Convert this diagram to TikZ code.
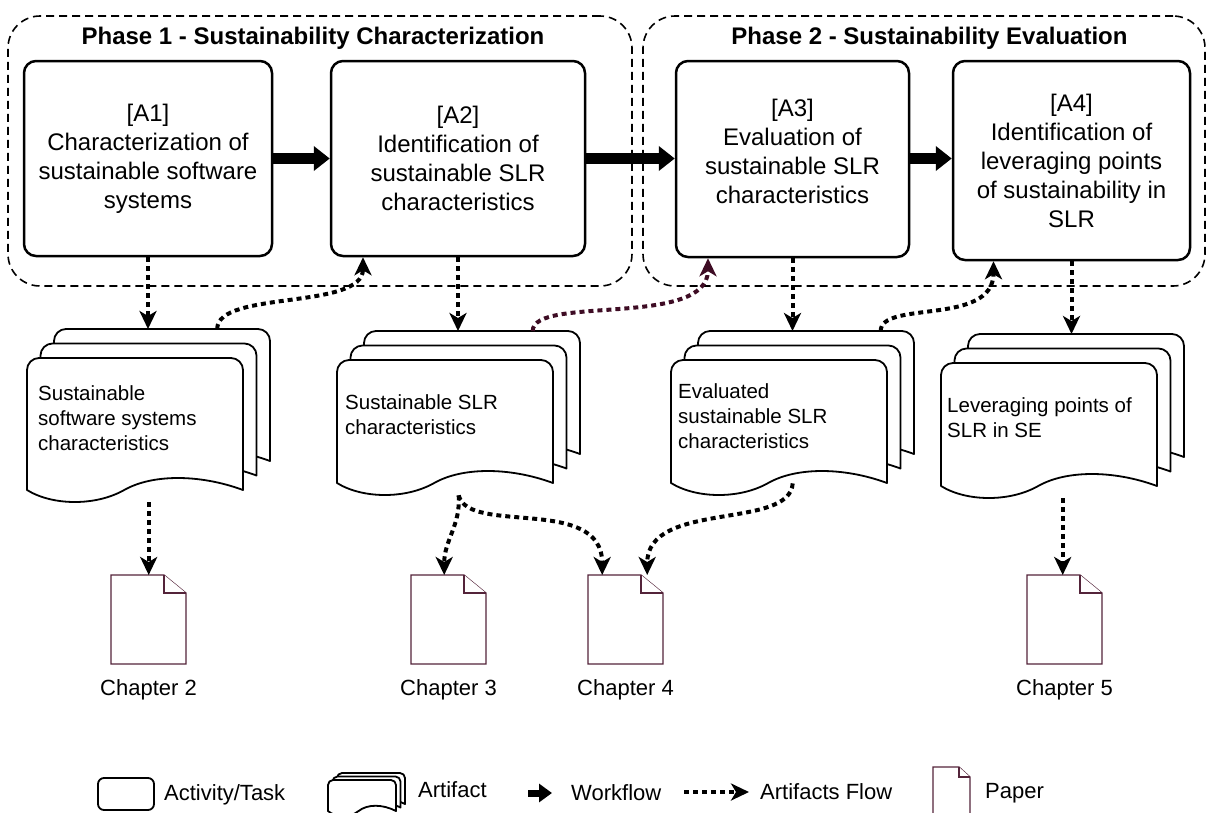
\documentclass[tikz,border=0pt]{standalone}
\usepackage{fontspec}
\setmainfont{Liberation Sans}
\usetikzlibrary{arrows.meta,calc}

\definecolor{papercol}{RGB}{84,36,58}
\definecolor{linkcol}{RGB}{62,12,36}

% one sheet of an artifact stack: x, y (top left), width, side height, corner radius, wave depth
\newcommand\sheet[6]{%
  \draw[sheet] (#1,#2+#4) -- (#1,#2+#5)
    .. controls (#1,#2+0.45*#5) and (#1+0.45*#5,#2) .. (#1+#5,#2)
    -- (#1+#3-#5,#2)
    .. controls (#1+#3-0.45*#5,#2) and (#1+#3,#2+0.45*#5) .. (#1+#3,#2+#5)
    -- (#1+#3,#2+#4)
    .. controls (#1+0.8*#3,#2+#4-#6) and (#1+0.58*#3,#2+#4-#6) .. (#1+0.45*#3,#2+#4)
    .. controls (#1+0.32*#3,#2+#4+#6) and (#1+0.12*#3,#2+#4+#6) .. (#1,#2+#4)
    -- cycle;}

% artifact stack: name, x, y of the front sheet, side height, caption position, caption
\newcommand\artifact[6]{%
  \foreach \k in {2,1,0}{\sheet{#2+13.5*\k}{#3-14.5*\k}{216}{#4}{12}{16}}
  \node[inner sep=0pt, minimum width=243pt, minimum height=#4pt+41pt, anchor=north west] (#1) at (#2,#3-29) {};
  \node[doctext] (#1-t) at #5 {#6};}

% paper icon: name, x, y (top left), width, height, fold width, fold height
\newcommand\paperdoc[7]{%
  \draw[paper] (#2,#3) -- (#2+#4-#6,#3) -- (#2+#4,#3+#7) -- (#2+#4,#3+#5) -- (#2,#3+#5) -- cycle;
  \draw[paper] (#2+#4-#6,#3) -- (#2+#4-#6,#3+#7) -- (#2+#4,#3+#7);
  \node[inner sep=0pt, minimum width=#4pt, minimum height=#5pt, anchor=north west] (#1) at (#2,#3) {};}

\begin{document}
\begin{tikzpicture}[x=1pt, y=-1pt,
  phase/.style={draw, dash pattern=on 8pt off 5pt, line width=1.6pt, rounded corners=32pt, inner sep=0pt},
  phasetitle/.style={font=\fontsize{24}{29}\selectfont\bfseries, inner sep=0pt},
  activity/.style={draw, line width=2.5pt, rounded corners=12pt, fill=white, align=center,
    font=\fontsize{24}{29}\selectfont, inner sep=0pt},
  workflow/.style={line width=11pt, -{Triangle[length=16pt,width=24pt]}},
  artflow/.style={line width=4pt, dash pattern=on 5pt off 4pt, -{Stealth[length=18pt,width=17pt,inset=5pt]}},
  sheet/.style={draw, line width=1.8pt, fill=white, line join=round},
  paper/.style={draw=papercol, line width=1.2pt, fill=white},
  doctext/.style={anchor=west, align=left, font=\fontsize{20.5}{25}\selectfont, inner sep=0pt},
  chaptext/.style={font=\fontsize{22}{26}\selectfont, inner sep=0pt},
  legendtext/.style={anchor=west, font=\fontsize{22}{26}\selectfont, inner sep=0pt}]

\useasboundingbox (0,0) rectangle (1208,812);
\clip (0,0) rectangle (1208,812);

% phases
\node[phase, minimum width=624pt, minimum height=270pt] (P1) at (320,151) {};
\node[phase, minimum width=562pt, minimum height=270pt] (P2) at (924,151) {};
\node[phasetitle] (P1t) at (313,38) {Phase 1 - Sustainability Characterization};
\node[phasetitle] (P2t) at (929.5,38) {Phase 2 - Sustainability Evaluation};

% activities
\node[activity, minimum width=248pt, minimum height=195pt] (A1) at (148,158.5)
  {[A1]\\Characterization of\\sustainable software\\systems};
\node[activity, minimum width=254pt, minimum height=195pt] (A2) at (458,158.5)
  {[A2]\\Identification of\\sustainable SLR\\characteristics};
\node[activity, minimum width=233pt, minimum height=196pt] (A3) at (792.5,159)
  {[A3]\\Evaluation of\\sustainable SLR\\characteristics\\[-22pt]\strut};
\node[activity, minimum width=237pt, minimum height=199pt] (A4) at (1071.5,160.5)
  {[A4]\\Identification of\\leveraging points\\of sustainability in\\SLR};

% workflow
\draw[workflow] (A1.east |- 0,158.5) -- (A2.west |- 0,158.5);
\draw[workflow] (A2.east |- 0,158.5) -- (A3.west |- 0,158.5);
\draw[workflow] (A3.east |- 0,158.5) -- (A4.west |- 0,158.5);

% artifacts
\artifact{S1}{27}{358}{132}{(38,418)}{Sustainable\\software systems\\characteristics}
\artifact{S2}{337}{360}{123}{(345,414.5)}{Sustainable SLR\\characteristics}
\artifact{S3}{671}{360}{123}{(678,416)}{Evaluated\\sustainable SLR\\characteristics}
\artifact{S4}{941}{363}{123}{(947,417.5)}{Leveraging points of\\SLR in SE}

% papers
\paperdoc{C2}{111}{575}{75}{89}{22}{18}
\paperdoc{C3}{411}{575}{75}{89}{22}{18}
\paperdoc{C4}{588}{575}{75}{89}{22}{18}
\paperdoc{C5}{1027}{575}{75}{89}{22}{18}
\node[chaptext] (C2t) at (148.5,690) {Chapter 2};
\node[chaptext] (C3t) at (448.5,690) {Chapter 3};
\node[chaptext] (C4t) at (625.5,690) {Chapter 4};
\node[chaptext] (C5t) at (1064.5,690) {Chapter 5};

% artifacts flow
\draw[artflow] (A1.south) -- (A1.south |- S1.north);
\draw[artflow] (A2.south) -- (A2.south |- S2.north);
\draw[artflow] (A3.south) -- (A3.south |- S3.north);
\draw[artflow] (A4.south) -- (A4.south |- S4.north);

\coordinate (f2s) at ($(S1.north)+(68.5,0)$);
\coordinate (f2t) at ($(A2.south)+(-95,0)$);
\draw[artflow] (f2s) .. controls +(0,-39) and +(0,53) .. (f2t);

\coordinate (f4s) at ($(S2.north)+(74,0)$);
\coordinate (f4t) at ($(A3.south)+(-84.5,0)$);
\draw[artflow, color=linkcol] (f4s) .. controls +(0,-36) and +(0,70) .. (f4t);

\coordinate (f6s) at ($(S3.north)+(88,0)$);
\coordinate (f6t) at ($(A4.south)+(-78,0)$);
\draw[artflow] (f6s) .. controls +(0,-31) and +(0,65) .. (f6t);

\draw[artflow] (S1.south) -- (S1.south |- C2.north);
\draw[artflow] (S2.south) .. controls +(2,30) and +(0,-35) .. ($(C3.north)+(-4.5,0)$);
\draw[artflow] (S2.south) .. controls +(10,40) and +(0,-80) .. ($(C4.north)+(-23.5,0)$);
\draw[artflow] ([yshift=12pt]S3.south) .. controls +(-3,47) and +(0,-75) .. ($(C4.north)+(21.5,0)$);
\draw[artflow] (S4.south) -- (S4.south |- C5.north);

% legend
\node[draw, line width=1.8pt, rounded corners=6pt, minimum width=56pt, minimum height=32pt, inner sep=0pt] (Lact) at (126,794) {};
\node[legendtext] (Lactt) at (164,795) {Activity/Task};

\foreach \k in {2,1,0}{\sheet{328+4.5*\k}{780-3.5*\k}{68}{31}{5}{7}}
\node[inner sep=0pt, minimum width=77pt, minimum height=40pt, anchor=north west] (Lart) at (328,773) {};
\node[legendtext] (Lartt) at (418,790) {Artifact};

\coordinate (Lwf1) at (528,793);
\coordinate (Lwf2) at (552,793);
\draw[line width=7pt, -{Triangle[length=13pt,width=18pt]}] (Lwf1) -- (Lwf2);
\node[legendtext] (Lwft) at (571,793) {Workflow};

\coordinate (Laf1) at (684,792);
\coordinate (Laf2) at (749,792);
\draw[artflow] (Laf1) -- (Laf2);
\node[legendtext] (Laft) at (760,792) {Artifacts Flow};

\paperdoc{Lpap}{933}{767}{37}{60}{11}{10}
\node[legendtext] (Lpapt) at (985,793) {Paper};
\end{tikzpicture}
\end{document}
